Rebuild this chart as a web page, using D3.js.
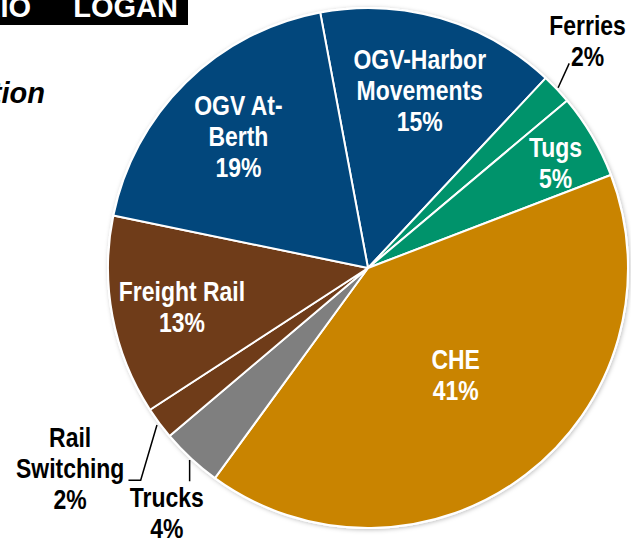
<!DOCTYPE html>
<html>
<head>
<meta charset="utf-8">
<script src="https://cdn.jsdelivr.net/npm/d3@7"></script>
<style>
  html, body { margin: 0; padding: 0; background: #fff; overflow: hidden; }
  svg { display: block; }
  text { font-family: "Liberation Sans", Arial, sans-serif; font-weight: bold; }
</style>
</head>
<body>
<svg id="chart" width="631" height="541"></svg>
<script>
'use strict';

// slices clockwise, starting at the OGV-Harbor / OGV At-Berth border
let categories = ["OGV-Harbor Movements", "Ferries", "Tugs", "CHE", "Trucks", "Rail Switching", "Freight Rail", "OGV At-Berth"]
let labelLines = [["OGV-Harbor", "Movements"], ["Ferries"], ["Tugs"], ["CHE"], ["Trucks"], ["Rail", "Switching"], ["Freight Rail"], ["OGV At-", "Berth"]]
let shares = [14.9, 1.9, 5.3, 40.8, 3.8, 2.0, 12.4, 18.8]
let shareLabels = ["15%", "2%", "5%", "41%", "4%", "2%", "13%", "19%"]
let colors = ["#02477c", "#00936b", "#00936b", "#c98400", "#7f7f7f", "#6f3c19", "#6f3c19", "#02477c"]

let chart = (function() {
    let svg = d3.select("#chart")
    let cx = 368, cy = 268, radius = 260
    let rad = Math.PI / 180

    // where each label sits: polar radius from centre, angle tweak (deg), inside or not
    let labelLayout = {
        "OGV-Harbor Movements": { r: 185, da: 0, inside: true },
        "Ferries": { r: 316, da: -2.5, inside: false, leader: [[262, 0], [287, -2]] },
        "Tugs": { r: 215, da: 1.2, inside: true },
        "CHE": { r: 138, da: -2, inside: true },
        "Trucks": { r: 317, da: -3.5, inside: false, leader: [[262, 0], [278, -3]] },
        "Rail Switching": { r: 359, da: 2.7, inside: false, leader: [[263, 0], [311, -6.4], [320, -4.9]] },
        "Freight Rail": { r: 190, da: -1, inside: true },
        "OGV At-Berth": { r: 185, da: 0, inside: true }
    }

    function polar(r, a) {
        return [cx + r * Math.sin(a), cy - r * Math.cos(a)]
    }

    function render() {
        let defs = svg.append("defs")
        let shadow = defs.append("filter").attr("id", "shadow")
            .attr("x", "-10%").attr("y", "-10%").attr("width", "120%").attr("height", "120%")
        shadow.append("feDropShadow")
            .attr("dx", 1).attr("dy", 1).attr("stdDeviation", 2)
            .attr("flood-color", "#000").attr("flood-opacity", 0.25)

        drawHeader()

        let start = -10.6 * rad
        let pie = d3.pie()
            .sort(null)
            .value(function(d) { return d.value })
            .startAngle(start)
            .endAngle(start + 2 * Math.PI)

        let data = categories.map(function(c, i) {
            return { name: c, value: shares[i], lines: labelLines[i], pct: shareLabels[i], color: colors[i] }
        })
        let arcs = pie(data)
        let arc = d3.arc().innerRadius(0).outerRadius(radius)

        let g = svg.append("g").attr("transform", "translate(" + cx + "," + cy + ")")

        g.append("circle").attr("r", radius + 1).attr("fill", "#fff").attr("filter", "url(#shadow)")

        g.selectAll("path.slice")
            .data(arcs)
            .enter().append("path")
            .attr("class", "slice")
            .attr("d", arc)
            .attr("fill", function(d) { return d.data.color })
            .attr("stroke", "#fff")
            .attr("stroke-width", 2)
            .attr("stroke-linejoin", "round")

        arcs.forEach(drawLabel)
    }

    function drawHeader() {
        svg.append("rect").attr("x", 0).attr("y", 0).attr("width", 188).attr("height", 25).attr("fill", "#000")
        // title is cut at the left edge, as in the source slide
        svg.append("text")
            .attr("x", 31).attr("y", 17)
            .attr("text-anchor", "end")
            .attr("font-size", 29)
            .attr("fill", "#fff")
            .text("SCENARIO")
        svg.append("text")
            .attr("x", 178).attr("y", 17)
            .attr("text-anchor", "end")
            .attr("font-size", 29)
            .attr("fill", "#fff")
            .text("LOGAN")
        svg.append("text")
            .attr("x", 45).attr("y", 103)
            .attr("text-anchor", "end")
            .attr("font-size", 29)
            .attr("font-style", "italic")
            .attr("fill", "#000")
            .text("Contribution")
    }

    function drawLabel(d) {
        let lay = labelLayout[d.data.name]
        let mid = (d.startAngle + d.endAngle) / 2
        let pos = polar(lay.r, mid + lay.da * rad)
        let lines = d.data.lines.concat([d.data.pct])
        let lh = 31, fs = 28

        if (lay.leader) {
            let pts = lay.leader.map(function(p) { return polar(p[0], mid + p[1] * rad) })
            svg.append("path")
                .attr("d", d3.line()(pts))
                .attr("fill", "none")
                .attr("stroke", "#000")
                .attr("stroke-width", 1.5)
        }

        let t = svg.append("g")
            .attr("transform", "translate(" + pos[0] + "," + pos[1] + ") scale(0.82,1)")
            .append("text")
            .attr("text-anchor", "middle")
            .attr("font-size", fs)
            .attr("fill", lay.inside ? "#fff" : "#000")

        lines.forEach(function(line, i) {
            t.append("tspan")
                .attr("x", 0)
                .attr("y", (i - (lines.length - 1) / 2) * lh + 0.35 * fs)
                .text(line)
        })
    }

    return { render }
}())

chart.render()
</script>
</body>
</html>
